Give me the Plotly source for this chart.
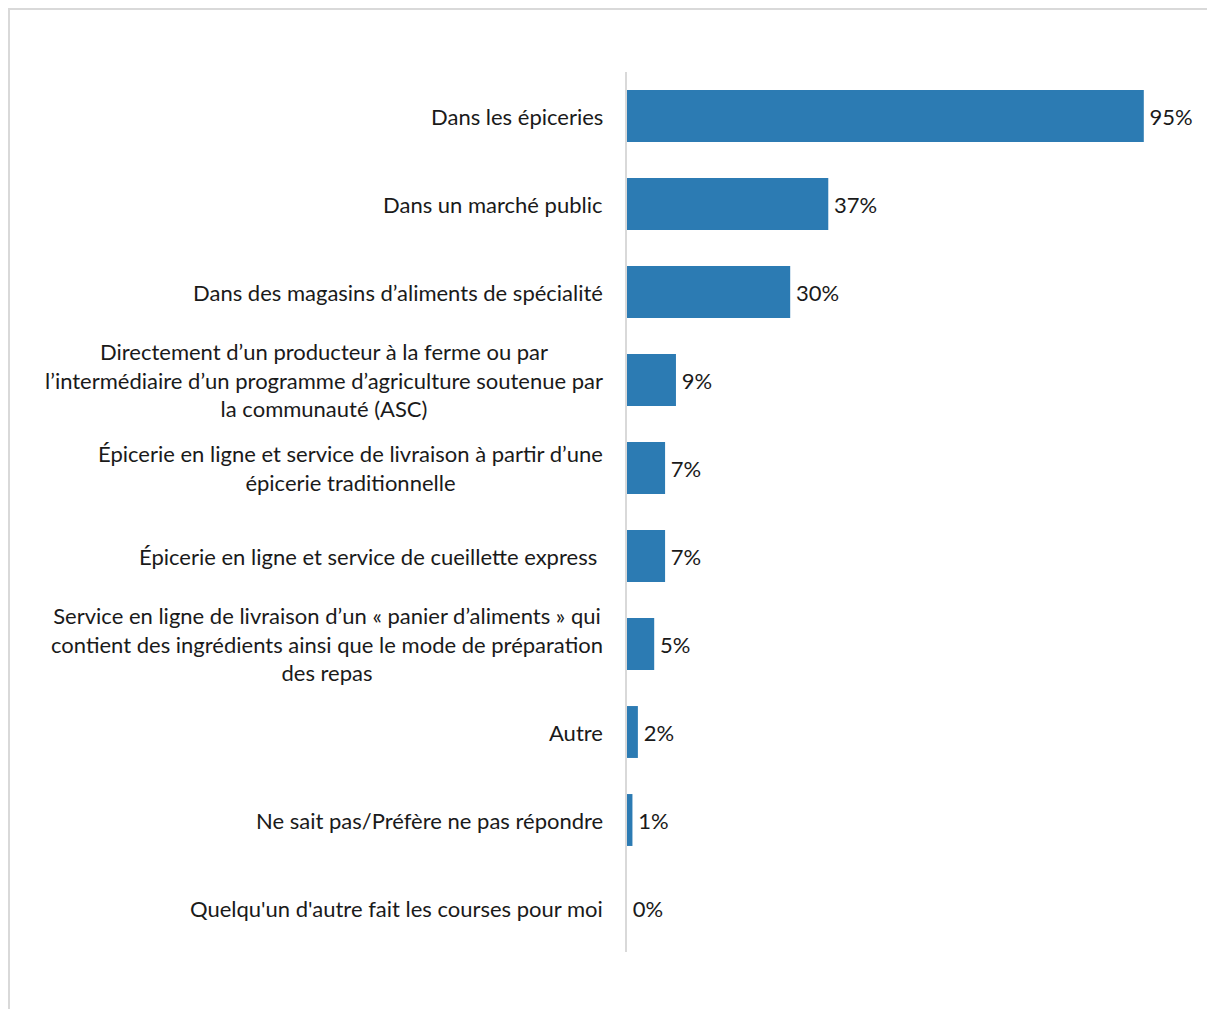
import plotly.graph_objects as go

categories = [
    "Dans les épiceries",
    "Dans un marché public",
    "Dans des magasins d’aliments de spécialité",
    "Directement d’un producteur à la ferme ou par<br>l’intermédiaire d’un programme d’agriculture soutenue par<br>la communauté (ASC)",
    "Épicerie en ligne et service de livraison à partir d’une<br>épicerie traditionnelle",
    "Épicerie en ligne et service de cueillette express ",
    "Service en ligne de livraison d’un « panier d’aliments » qui<br>contient des ingrédients ainsi que le mode de préparation<br>des repas",
    "Autre",
    "Ne sait pas/Préfère ne pas répondre",
    "Quelqu'un d'autre fait les courses pour moi",
]
values = [95, 37, 30, 9, 7, 7, 5, 2, 1, 0]
value_labels = [f"{v}%" for v in values]

FONT = "Lato"
FS = 22
BAR = "#2C7BB3"
TXT = "#1a1a1a"

W, H = 1215, 1009
ML, MT, MB = 619, 64, 65
XMAX = 100
PXU = 5.44
MR = W - ML - int(XMAX * PXU)

fig = go.Figure(go.Bar(
    x=values, y=categories, orientation="h",
    marker=dict(color=BAR, line=dict(width=0)),
    text=value_labels, textposition="outside",
    texttemplate="\u2009%{text}",
    textfont=dict(family=FONT, size=FS, color=TXT),
    cliponaxis=False, width=0.59,
))

for c in categories:
    fig.add_annotation(x=0, y=c, xref="x", yref="y", text=c, showarrow=False,
                       xanchor="right", yanchor="middle", align="center", xshift=-22,
                       font=dict(family=FONT, size=FS, color=TXT))

fig.update_layout(
    width=W, height=H,
    margin=dict(l=ML, r=MR, t=MT, b=MB),
    paper_bgcolor="white", plot_bgcolor="white",
    showlegend=False,
    xaxis=dict(range=[0, XMAX], visible=False, fixedrange=True),
    yaxis=dict(autorange="reversed", showticklabels=False, showgrid=False,
               showline=True, linecolor="#D9D9D9", linewidth=2, ticks="",
               zeroline=False),
)

pw = W - ML - MR
ph = H - MT - MB
def fx(px):
    return (px - ML) / pw
def fy(py):
    return (H - MB - py) / ph

fig.add_shape(type="line", xref="paper", yref="paper",
              x0=fx(0), x1=fx(W), y0=fy(1), y1=fy(1),
              line=dict(color="#D9D9D9", width=2))
fig.add_shape(type="line", xref="paper", yref="paper",
              x0=fx(1), x1=fx(1), y0=fy(0), y1=fy(H),
              line=dict(color="#D9D9D9", width=2))

fig.write_html("out.html")
